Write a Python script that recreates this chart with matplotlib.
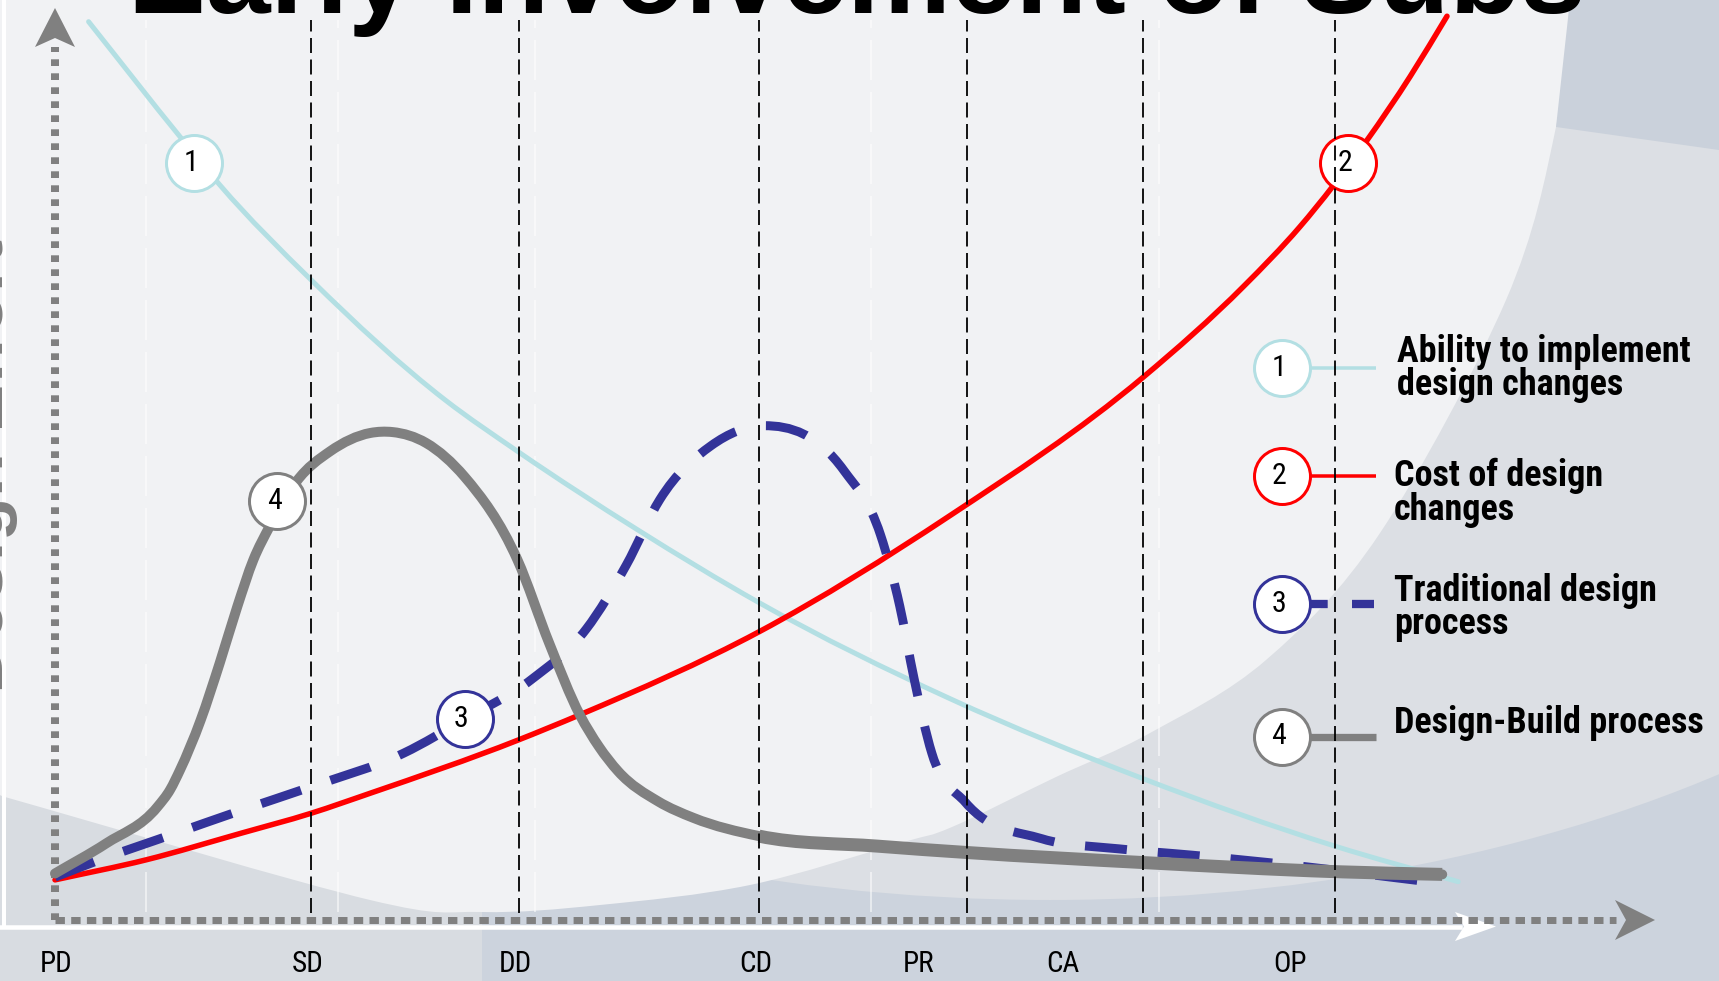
import numpy as np
import matplotlib
matplotlib.use('Agg')
import matplotlib.pyplot as plt
from matplotlib import font_manager
from matplotlib.path import Path
from matplotlib.patches import PathPatch, Polygon, Ellipse, Rectangle

plt.rcParams['lines.scale_dashes'] = False
installed = {f.name for f in font_manager.fontManager.ttflist}
NARROW = next((n for n in ['Liberation Sans Narrow', 'Arial Narrow', 'Roboto Condensed']
               if n in installed), 'Liberation Sans')

# x = % of project time axis, y = % of effort (0 at the time axis)
phases = ['PD', 'SD', 'DD', 'CD', 'PR', 'CA', 'OP']
phase_label_x = [0.1, 15.8, 28.8, 43.8, 54.0, 63.0, 77.2]
phase_line_x = [16.0, 29.0, 44.0, 57.0, 68.0, 80.0]
faint_line_x = [5.7, 17.7, 30.0, 51.0, 69.0]

# 1 - ability to implement design changes
ability_x = [2.1, 7.9, 10.3, 16.0, 24.4, 28.9, 36.4, 44.0, 55.9, 68.0, 80.0, 87.7]
ability_y = [98.5, 85.7, 80.6, 70.2, 57.0, 51.4, 42.8, 34.8, 24.3, 15.5, 8.1, 4.2]

# 2 - cost of design changes
cost_x = [0.0, 5.7, 11.6, 16.0, 19.7, 28.9, 32.8, 44.0, 55.9, 68.0, 74.3, 77.8, 82.0, 84.7, 87.0]
cost_y = [4.4, 6.6, 9.5, 11.7, 13.9, 19.7, 22.5, 31.6, 44.3, 59.5, 69.5, 76.0, 85.5, 92.5, 99.1]

# 3 - traditional design process
trad_x = [0.0, 2.8, 7.2, 11.6, 16.0, 21.8, 25.6, 29.8, 33.2, 35.7, 37.8, 41.0, 44.3,
          49.3, 51.6, 52.8, 53.7, 54.8, 56.9, 61.7, 66.5, 71.1, 75.8, 86.3]
trad_y = [4.7, 6.6, 9.3, 12.0, 14.6, 18.3, 22.0, 26.4, 31.9, 38.9, 46.1, 52.0, 54.2,
          49.3, 42.2, 34.4, 26.4, 18.3, 12.9, 8.9, 7.8, 7.1, 6.3, 4.1]

# 4 - design-build process
db_x = [0.0, 3.2, 6.4, 7.2, 7.8, 9.1, 10.3, 11.4, 12.4, 13.4, 15.1, 17.2, 19.7, 21.1, 23.2,
        25.6, 28.9, 30.9, 32.8, 34.0, 35.2, 37.7, 39.9, 44.0, 51.4, 57.0, 68.0, 80.0, 86.7]
db_y = [5.1, 8.4, 12.4, 14.3, 16.4, 21.9, 28.2, 34.4, 39.5, 43.1, 48.1, 51.4, 53.4, 53.5,
        52.3, 48.6, 39.5, 30.3, 22.5, 19.0, 16.3, 13.0, 11.2, 9.2, 8.1, 7.4, 6.3, 5.3, 5.0]
db_tail_from = 23   # index where the line gets thicker

# numbered badges on the curves
badge_labels = ['1', '2', '3', '4']
badge_x = [8.7, 80.8, 25.6, 13.9]
badge_y = [83.0, 83.0, 22.0, 45.9]

colors = ['#b3dfe3', '#ff0000', '#333399', '#808080']
legend_text = [['Ability to implement', 'design changes'],
               ['Cost of design', 'changes'],
               ['Traditional design', 'process'],
               ['Design-Build process']]


def px_x(px):
    return (px - 55) / 16.0


def px_y(py):
    return (920 - py) / 9.12


def pt(px):
    return px * 0.72


def hermite(xs, ys, start=0):
    # smooth y(x) curve: cubic Hermite segments with 3-point slopes, as bezier path
    x = np.asarray(xs, float)
    y = np.asarray(ys, float)
    h = np.diff(x)
    d = np.diff(y) / h
    m = np.empty_like(y)
    m[0], m[-1] = d[0], d[-1]
    m[1:-1] = (h[1:] * d[:-1] + h[:-1] * d[1:]) / (h[:-1] + h[1:])
    verts = [(x[start], y[start])]
    codes = [Path.MOVETO]
    for i in range(start, len(h)):
        verts += [(x[i] + h[i] / 3, y[i] + m[i] * h[i] / 3),
                  (x[i + 1] - h[i] / 3, y[i + 1] - m[i + 1] * h[i] / 3),
                  (x[i + 1], y[i + 1])]
        codes += [Path.CURVE4] * 3
    return Path(verts, codes)


def catmull(xs, ys):
    pts = np.column_stack([xs, ys]).astype(float)
    ext = np.vstack([pts[0], pts, pts[-1]])
    verts = [pts[0]]
    codes = [Path.MOVETO]
    for i in range(1, len(ext) - 2):
        p0, p1, p2, p3 = ext[i - 1], ext[i], ext[i + 1], ext[i + 2]
        verts += [p1 + (p2 - p0) / 6, p2 - (p3 - p1) / 6, p2]
        codes += [Path.CURVE4] * 3
    return verts, codes


def curve(xs, ys, start=0, **kw):
    ax.add_patch(PathPatch(hermite(xs, ys, start), fill=False, **kw))


def region(px_pts, closing, color, z):
    v, c = catmull([px_x(p[0]) for p in px_pts], [px_y(p[1]) for p in px_pts])
    for q in closing:
        v.append((px_x(q[0]), px_y(q[1])))
        c.append(Path.LINETO)
    v.append(v[0])
    c.append(Path.CLOSEPOLY)
    ax.add_patch(PathPatch(Path(v, c), facecolor=color, edgecolor='none', zorder=z))


def poly(px_pts, color, z):
    ax.add_patch(Polygon([(px_x(a), px_y(b)) for a, b in px_pts], closed=True,
                         facecolor=color, edgecolor='none', zorder=z))


fig = plt.figure(figsize=(17.19, 9.81), dpi=100, facecolor='#ccd3dd')
ax = fig.add_axes([0, 0, 1, 1])
ax.set_xlim(px_x(0), px_x(1719))
ax.set_ylim(px_y(981), px_y(0))
ax.axis('off')

# background swooshes
ax.add_patch(Ellipse((px_x(1050), px_y(290)), 2 * 1100 / 16.0, 2 * 610 / 9.12,
                     facecolor='#dcdfe4', edgecolor='none', zorder=0.1))
ax.add_patch(Rectangle((px_x(0), px_y(981)), px_x(482) - px_x(0), px_y(780) - px_y(981),
                       facecolor='#d8dce1', edgecolor='none', zorder=0.15))
region([(1570, 0), (1556, 127), (1506, 300), (1380, 533), (1266, 660), (1150, 733),
        (1056, 777), (952, 827), (900, 843), (750, 885), (600, 905), (482, 912),
        (370, 900), (40, 807), (0, 795)], [(0, 0)], '#f1f2f4', 0.3)
poly([(1570, 0), (1719, 0), (1719, 150), (1556, 127)], '#cad1db', 0.35)

# white slide frame
ax.plot([px_x(4), px_x(4)], [px_y(0), px_y(926)], color='white', lw=pt(4), zorder=1)
ax.plot([px_x(0), px_x(1460)], [px_y(926.5), px_y(926.5)], color='white', lw=pt(4.5), zorder=1)
poly([(1496, 926.5), (1455, 912), (1464, 926.5), (1455, 941)], 'white', 1)

for x in faint_line_x:
    ax.plot([x, x], [px_y(912), px_y(20)], color='white', lw=pt(1.5), alpha=0.7,
            dashes=(pt(40), pt(12)), zorder=1)

# dotted axes with arrow heads
ax.plot([0, 0], [0, px_y(47)], color='#808080', lw=pt(8), dashes=(pt(6.7), pt(7.3)),
        dash_capstyle='butt', zorder=2)
poly([(55, 8), (35, 47), (55, 38), (75, 47)], '#808080', 2)
ax.plot([0, px_x(1616)], [0, 0], color='#808080', lw=pt(7), dashes=(pt(9.4), pt(6.3)),
        dash_capstyle='butt', zorder=2)
poly([(1655, 920), (1615, 900), (1626, 920), (1615, 940)], '#808080', 2)

# curves
curve(ability_x, ability_y, edgecolor=colors[0], lw=pt(5), capstyle='round', zorder=3)
curve(cost_x, cost_y, edgecolor=colors[1], lw=pt(5.5), capstyle='round', zorder=3.1)
curve(trad_x, trad_y, edgecolor=colors[2], lw=pt(9), capstyle='butt',
      linestyle=(0, (pt(42), pt(31))), zorder=3.2)
curve(db_x, db_y, edgecolor=colors[3], lw=pt(10), capstyle='round', joinstyle='round', zorder=3.3)
curve(db_x, db_y, start=db_tail_from, edgecolor=colors[3], lw=pt(13),
      capstyle='butt', zorder=3.3)

# numbered badges
for lab, x, y, c in zip(badge_labels, badge_x, badge_y, colors):
    ax.plot(x, y, 'o', ms=pt(56), mfc='white', mec=c, mew=pt(3), zorder=5)
    ax.text(x - 0.2, y, lab, ha='center', va='center', fontsize=pt(30),
            family=NARROW, zorder=5.1)

# phase separators
for x in phase_line_x:
    ax.plot([x, x], [px_y(913), px_y(20)], color='black', lw=pt(1.8),
            dashes=(pt(15), pt(6.5)), zorder=6)

phase_texts = []
for lab, x in zip(phases, phase_label_x):
    phase_texts.append(ax.text(x, px_y(971.7), lab, ha='center', va='baseline', fontsize=21,
                               family=NARROW, color='black', zorder=6))

# legend
leg_cy = [367.7, 476, 604.3, 736.5]
leg_tx = [1396.7, 1394, 1394, 1394]
leg_base = [361.7, 486, 601, 732.7]
leg_dash = ['-', '-', (0, (pt(17.7), pt(24.3), pt(22), pt(20))), '-']
leg_lw = [3.5, 3.5, 8.3, 7.3]
legend_texts = []
for i in range(4):
    ax.plot([px_x(1310), px_x(1376)], [px_y(leg_cy[i]), px_y(leg_cy[i])], color=colors[i],
            lw=pt(leg_lw[i]), linestyle=leg_dash[i], solid_capstyle='butt',
            dash_capstyle='butt', zorder=4)
    ax.plot(px_x(1282), px_y(leg_cy[i]), 'o', ms=pt(56), mfc='white', mec=colors[i],
            mew=pt(3), zorder=5)
    ax.text(px_x(1282) - 0.2, px_y(leg_cy[i]), badge_labels[i], ha='center', va='center',
            fontsize=pt(30), family=NARROW, zorder=5.1)
    for j, line in enumerate(legend_text[i]):
        legend_texts.append(ax.text(px_x(leg_tx[i]), px_y(leg_base[i] + 33.5 * j), line,
                                    ha='left', va='baseline', fontsize=26, fontweight='bold',
                                    family=NARROW, zorder=5))

# title and axis label, both partly cut by the slide edge
fig.text(857 / 1719, 1 - 13 / 981, 'Early Involvement of Subs', ha='center', va='baseline',
         fontsize=84, fontweight='bold', family='Liberation Sans', color='black')
fig.text(3 / 1719, 1 - 466 / 981, 'Design Effort', rotation=90, rotation_mode='anchor',
         ha='center', va='baseline', fontsize=52, fontweight='bold',
         family='Liberation Sans', color='#808080')

# the reference uses a narrow face: fit the text widths if only a wide one is installed
fig.canvas.draw()
rend = fig.canvas.get_renderer()
k = 312.0 / legend_texts[-1].get_window_extent(rend).width
if k < 1:
    for t in legend_texts:
        t.set_fontsize(t.get_fontsize() * k)
k = 36.0 / phase_texts[0].get_window_extent(rend).width
if k < 1:
    for t in phase_texts:
        t.set_fontsize(t.get_fontsize() * k)

fig.savefig('out.png', dpi=100, facecolor=fig.get_facecolor())
